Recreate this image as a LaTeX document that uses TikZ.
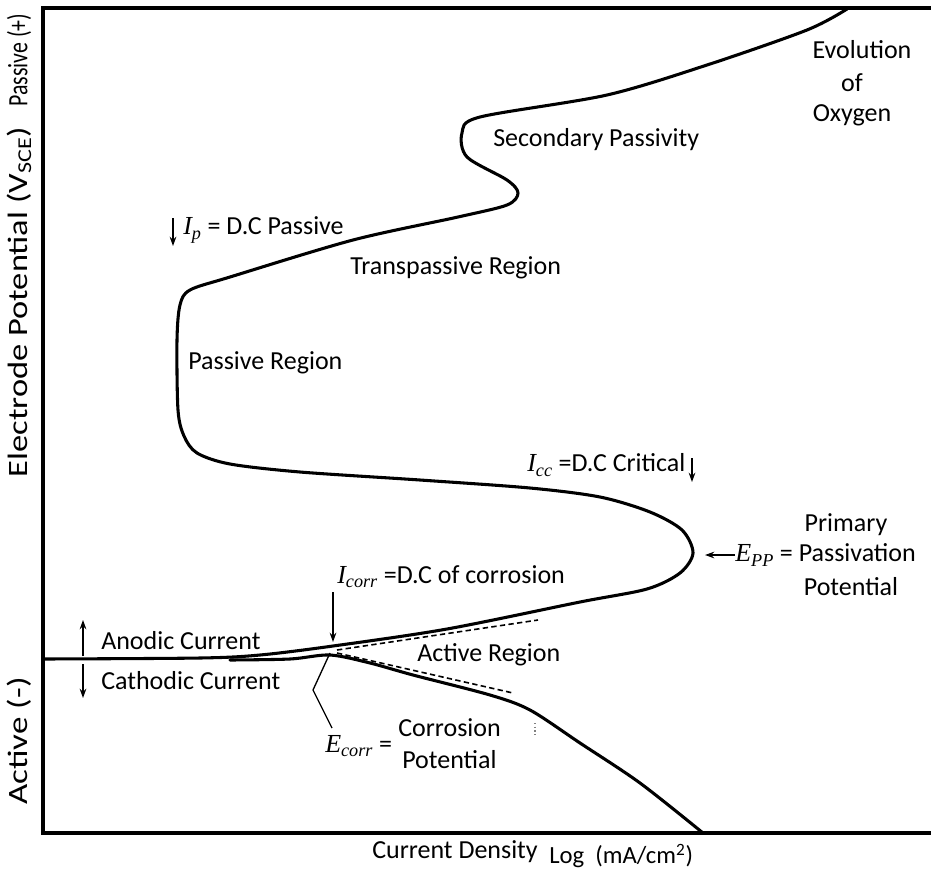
\documentclass[tikz,border=0pt]{standalone}
\usepackage{fontspec}
\setmainfont{Carlito}
\newfontfamily\varfont{Liberation Serif}
\newcommand\vsym[2]{{\varfont\itshape #1}\textsubscript{\varfont\itshape #2}}
\usetikzlibrary{arrows.meta}
\begin{document}
\begin{tikzpicture}[x=0.75pt,y=-0.75pt,
  every node/.style={font=\fontsize{19.5}{23}\selectfont, inner sep=0pt},
  small/.style={font=\fontsize{18.5}{22}\selectfont},
  ylabel/.style={font=\fontsize{21}{24}\selectfont, rotate=90},
  curve/.style={line width=2.3pt, line join=round, line cap=round},
  axisline/.style={line width=2.3pt},
  tafel/.style={line width=1.2pt, dash pattern=on 4pt off 2.5pt},
  arr/.style={-{Stealth[length=7pt,width=5pt]}, line width=1.1pt},
  leader/.style={line width=1pt}]
\useasboundingbox (0,0) rectangle (931,868);
% frame
\draw[axisline] (931,8) -- (43,8) -- (43,833) -- (931,833);
% anodic branch, passive, transpassive
\draw[curve] plot[smooth, tension=0.5] coordinates {(43,659) (200,658) (260,655) (333,646) (447,629) (580,602) (647,589) (680,573) (693,553) (682,530) (650,512) (600,497) (530,488) (420,480) (300,472) (230,464) (197,453) (184,436) (178,410) (177,340) (180,305) (190,290) (230,277) (353,240) (458,217) (507,205) (518,193) (507,180) (467,157) (462,133) (480,117) (607,95) (707,65) (807,30) (847,9)};
% cathodic branch
\draw[curve] plot[smooth, tension=0.5] coordinates {(230,660) (290,659) (330,655) (370,663) (413,675) (490,695) (530,710) (580,743) (640,783) (703,833)};
% Tafel extrapolations
\draw[tafel] (337,650) -- (538,620);
\draw[tafel] (337,653) -- (513,693);
\draw[gray, dotted, line width=0.8pt] (535,723) -- (535,737);
% labels
\node (evo) at (862,50) {Evolution};
\node (of) at (852,83) {of};
\node (oxy) at (852,115) {Oxygen};
\node[anchor=west] (sec) at (493,140) {Secondary Passivity};
\node[anchor=west] (ip) at (183,230) {\vsym{I}{p} = D.C Passive};
\node[anchor=west] (trans) at (350,268) {Transpassive Region};
\node[anchor=west] (pas) at (188,363) {Passive Region};
\node[anchor=west] (icc) at (527,465) {\vsym{I}{cc} =D.C Critical};
\node (prim) at (846,525) {Primary};
\node[anchor=west] (epp) at (735,555) {\vsym{E}{PP} = Passivation};
\node (ppot) at (851,587) {Potential};
\node[anchor=west] (icorr) at (337,577) {\vsym{I}{corr} =D.C of corrosion};
\node[anchor=west] (act) at (417,655) {Active Region};
\node[anchor=west] (ano) at (101,641) {Anodic Current};
\node[anchor=west] (cat) at (101,681) {Cathodic Current};
\node[anchor=west] (ecorr) at (325,746) {\vsym{E}{corr} =};
\node[anchor=west] (cor) at (398,728) {Corrosion};
\node[anchor=west] (cpot) at (402,760) {Potential};
\node[anchor=west] (xlab) at (372,852) {Current Density};
\node[anchor=west, small] (xunit) at (549,856) {Log\ \ (mA/cm\textsuperscript{2})};
\node[ylabel] (ypas) at (19,60) {\scalebox{0.78}[1]{Passive (+)}};
\node[ylabel] (ylab) at (19,302) {\scalebox{1.23}[1]{Electrode Potential (V\textsubscript{SCE})}};
\node[ylabel] (yact) at (19,741) {\scalebox{1.25}[1]{Active (-)}};
% arrows
\coordinate (ipa) at (173,218);
\coordinate (ipb) at (173,246);
\draw[arr] (ipa) -- (ipb);
\coordinate (icca) at (692,458);
\coordinate (iccb) at (692,482);
\draw[arr] (icca) -- (iccb);
\coordinate (eppb) at (705,555);
\draw[arr] (epp.west) -- (eppb);
\coordinate (icb) at (333,642);
\draw[arr] (333,592) -- (icb);
\coordinate (anb) at (83,620);
\draw[arr] (83,656) -- (anb);
\coordinate (cab) at (83,698);
\draw[arr] (83,664) -- (cab);
\coordinate (ec1) at (330,653);
\coordinate (ec2) at (313,690);
\coordinate (ec3) at (332,728);
\draw[leader] (ec1) -- (ec2) -- (ec3);
\end{tikzpicture}
\end{document}
